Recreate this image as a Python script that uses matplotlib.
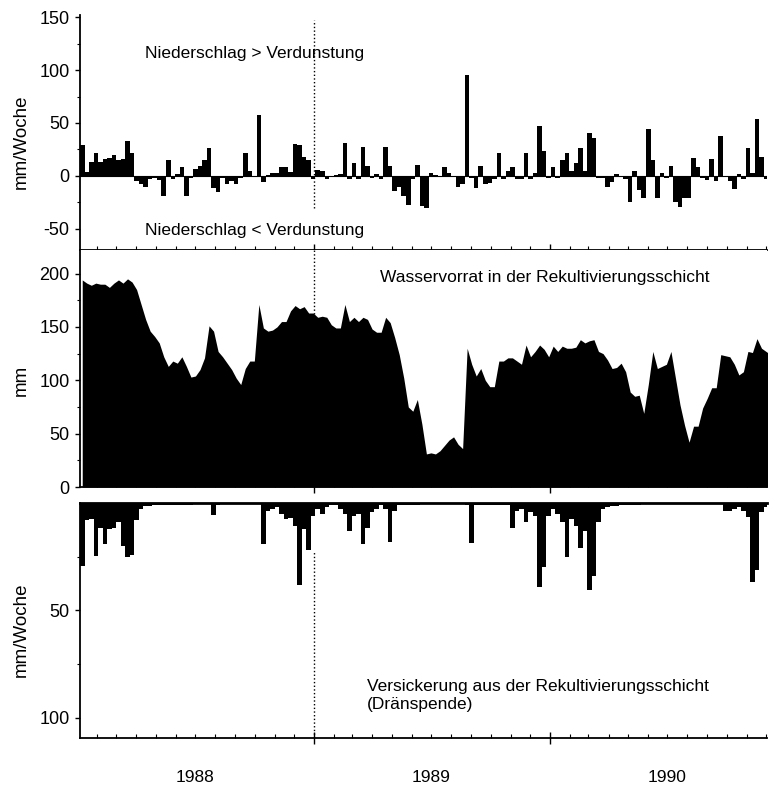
import pandas as pd
import matplotlib.pyplot as plt
import matplotlib.dates as mdates
from matplotlib.ticker import MultipleLocator

plt.rcParams['font.family'] = ['Liberation Sans', 'DejaVu Sans']
plt.rcParams['axes.unicode_minus'] = False

# Wochenwerte, erste Woche ab 05.01.1988
week_start = '1988-01-05'
years = [1988, 1989, 1990]

# Niederschlag - Verdunstung (mm/Woche)
bilanz = [29, 4, 13, 22, 13, 16, 17, 20, 15, 16, 33, 22, -5, -8, -10, -3, -2, -4, -19, 15,
          -3, 2, 8, -19, -2, 7, 9, 15, 26, -11, -15, -2, -8, -5, -8, -2, 22, 5, 0, 58,
          -6, 1, 3, 3, 8, 8, 4, 30, 29, 18, 15,
          -3, 6, 5, -3, 0, 1, 2, 31, -3, 12, -3, 27, 9, -2, 2, -3, 27, 9, -14, -10,
          -19, -27, -3, 10, -28, -30, 3, 1, 0, 8, 3, 0, -10, -8, 95, -2, -11, 9, -8, -7,
          -3, 22, -3, 5, 8, -3, -3, 22, -3, 3, 47,
          24, -2, 8, -2, 15, 22, 5, 12, 26, 5, 41, 36, -2, -2, -10, -6, 2, 0, -3, -25,
          5, -13, -21, 44, 15, -21, 3, -2, 9, -25, -29, -21, -21, 17, 8, -2, -4, 16, -5, 38,
          0, -5, -12, 2, -3, 26, 3, 54, 18, -3, 3]

# Wasservorrat in der Rekultivierungsschicht (mm)
vorrat = [194, 191, 189, 191, 190, 190, 187, 191, 194, 191, 195, 192, 185, 171, 157, 146, 141, 135, 122, 113,
          118, 116, 122, 113, 103, 104, 110, 121, 151, 146, 127, 122, 116, 110, 102, 96, 111, 118, 118, 171,
          149, 146, 147, 150, 155, 155, 165, 170, 167, 169, 163, 163, 159, 160, 159, 152, 149, 149, 171, 155,
          159, 155, 159, 157, 148, 145, 145, 159, 154, 140, 124, 102, 75, 71, 82, 59, 31, 32, 31, 34,
          39, 44, 47, 40, 36, 130, 115, 104, 111, 100, 94, 94, 118, 118, 121, 121, 118, 115, 133, 122,
          127, 133, 129, 122, 132, 127, 132, 130, 130, 131, 138, 135, 137, 138, 127, 125, 119, 111, 112, 116,
          108, 89, 85, 86, 69, 96, 127, 111, 113, 115, 127, 102, 77, 58, 42, 57, 57, 74, 83, 93,
          93, 124, 123, 122, 115, 105, 108, 127, 126, 139, 130, 127, 124]

# Versickerung / Draenspende (mm/Woche)
sickerung = [29.5, 8, 7.5, 24.5, 11.5, 19, 12, 11.5, 9, 20, 25, 24, 8, 3, 1.5, 1.5, 1, 1, 1, 1,
             1, 1, 1, 1, 1, 0.5, 0.5, 0.5, 0.5, 5.5, 1, 0.5, 0.5, 0.5, 0.5, 0.5, 0.5, 0.5, 0.5, 0.5,
             19, 3.5, 3, 2, 5, 7.5, 7, 10.7, 38, 12, 22, 6, 3, 5, 2, 1, 1, 3, 5, 13,
             6, 5, 19, 11.5, 4.4, 3, 1, 3, 18, 3.6, 1, 1, 1, 1, 1, 0.5, 0.5, 0.5, 0.5, 0.5,
             0.5, 0.5, 0.5, 0.5, 0.5, 1, 18.5, 1, 1, 1, 1, 1, 1, 1, 1, 11.5, 3.6, 3, 9, 4.4,
             6, 39, 30, 6, 3, 5, 9, 25, 7.5, 10.7, 21, 13, 40.5, 34, 9, 3, 2, 1.5, 1.5, 1,
             1, 1, 1, 1, 0.5, 0.5, 0.5, 0.5, 0.5, 0.5, 0.5, 0.5, 0.5, 0.5, 0.5, 0.5, 0.5, 0.5, 0.5, 0.5,
             0.5, 0.5, 3.6, 3.6, 3, 2, 3.6, 6.7, 36.6, 31, 4.4, 2, 2]

weeks = pd.date_range(week_start, periods=len(bilanz), freq='7D')
mid = weeks + pd.Timedelta(days=3.5)
wende = pd.Timestamp('1989-01-01')

fig = plt.figure(figsize=(7.69, 7.90), dpi=100)
ax1 = fig.add_axes([0.104, 0.6835, 0.8934, 0.2975])
ax2 = fig.add_axes([0.104, 0.3835, 0.8934, 0.300], sharex=ax1)
ax3 = fig.add_axes([0.104, 0.0658, 0.8934, 0.2975], sharex=ax1)

# oben: Klimatische Wasserbilanz
ax1.bar(weeks, bilanz, width=7, align='edge', color='black', linewidth=0)
ax1.axhline(0, color='black', lw=0.8)
ax1.axvline(wende, ymin=0.18, ymax=0.98, ls=':', color='black', lw=1)
ax1.set_ylim(-70, 152)
ax1.set_yticks([-50, 0, 50, 100, 150])
ax1.yaxis.set_minor_locator(MultipleLocator(25))
ax1.text(0.0946, 0.838, 'Niederschlag > Verdunstung', transform=ax1.transAxes, fontsize=12.5, va='center')
ax1.text(0.0946, 0.085, 'Niederschlag < Verdunstung', transform=ax1.transAxes, fontsize=12.5, va='center')

# Mitte: Wasservorrat
ax2.fill_between(mid, vorrat, 0, color='black', lw=0)
ax2.axvline(wende, ls=':', color='black', lw=1, zorder=0)
ax2.set_ylim(0, 222)
ax2.set_yticks([0, 50, 100, 150, 200])
ax2.yaxis.set_minor_locator(MultipleLocator(25))
ax2.text(0.437, 0.886, 'Wasservorrat in der Rekultivierungsschicht', transform=ax2.transAxes, fontsize=12.5, va='center')

# unten: Sickerwasser
ax3.bar(weeks, sickerung, width=7, align='edge', color='black', linewidth=0)
ax3.axvline(wende, ymin=0, ymax=0.79, ls=':', color='black', lw=1)
ax3.set_ylim(109.5, 0)
ax3.set_yticks([50, 100])
ax3.set_yticks([25, 75], minor=True)
ax3.text(0.418, 0.179, 'Versickerung aus der Rekultivierungsschicht\n(Dränspende)',
         transform=ax3.transAxes, fontsize=12.5, va='center', linespacing=1.25)

ax1.set_xlim(pd.Timestamp('1988-01-05'), pd.Timestamp('1990-12-02'))
ax1.xaxis.set_major_locator(mdates.YearLocator())
ax1.xaxis.set_minor_locator(mdates.MonthLocator())

for ax in (ax1, ax2, ax3):
    ax.spines['right'].set_visible(False)
    ax.spines['top'].set_visible(False)
    for s in ('left', 'bottom'):
        ax.spines[s].set_linewidth(1.3)
    ax.tick_params(axis='y', which='major', direction='out', length=3.5, width=1, labelsize=13, pad=4)
    ax.tick_params(axis='y', which='minor', direction='out', length=2, width=0.8)
    ax.tick_params(axis='x', which='major', direction='inout', length=8, width=1, labelbottom=False)
    ax.tick_params(axis='x', which='minor', direction='in', length=3, width=0.8)
ax3.spines['top'].set_visible(True)
ax3.spines['top'].set_linewidth(2)

for y in years:
    ax3.text(pd.Timestamp(f'{y}-07-01'), -0.166, str(y), transform=ax3.get_xaxis_transform(),
             ha='center', va='center', fontsize=12.5)

fig.text(21 / 769, 0.820, 'mm/Woche', rotation=90, ha='center', va='center', fontsize=13.5)
fig.text(21 / 769, 0.519, 'mm', rotation=90, ha='center', va='center', fontsize=13.5)
fig.text(21 / 769, 0.203, 'mm/Woche', rotation=90, ha='center', va='center', fontsize=13.5)

plt.savefig('out.png', dpi=100)
